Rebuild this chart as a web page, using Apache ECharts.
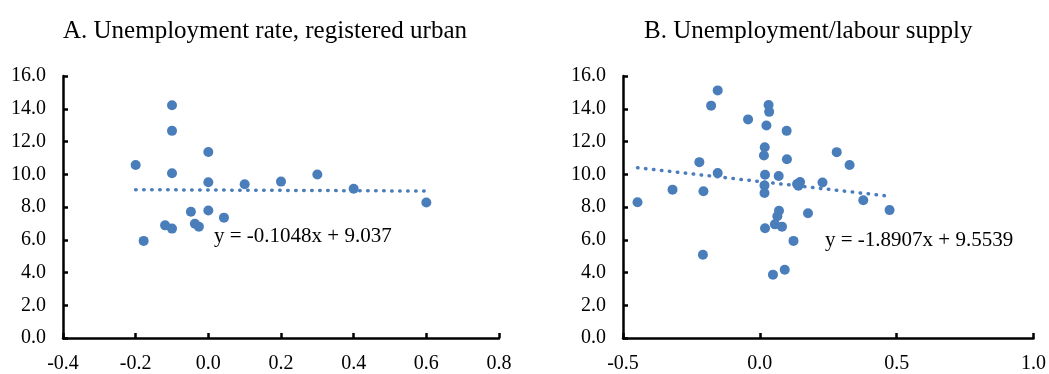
<!DOCTYPE html>
<html>
<head>
<meta charset="utf-8">
<script src="https://cdn.jsdelivr.net/npm/echarts@6/dist/echarts.min.js"></script>
<style>
html,body{margin:0;padding:0;background:#fff;}
#c{width:1049px;height:374px;}
</style>
</head>
<body>
<div id="c"></div>
<script>
// Panel A: Unemployment rate, registered urban
const titleA = 'A. Unemployment rate, registered urban';
const pointsA = [
  [-0.2,10.57],[-0.178,5.93],[-0.1,14.21],[-0.1,12.65],[-0.1,10.06],[-0.1,6.68],
  [-0.119,6.88],[-0.048,7.71],[-0.037,6.98],[-0.026,6.80],[0,11.36],[0,9.51],
  [0,7.79],[0.043,7.35],[0.1,9.39],[0.2,9.55],[0.3,9.98],[0.4,9.11],[0.6,8.28]
];
const trendA = { slope: -0.1048, intercept: 9.037, label: 'y = -0.1048x + 9.037' };

// Panel B: Unemployment/labour supply
const titleB = 'B. Unemployment/labour supply';
const pointsB = [
  [-0.447,8.29],[-0.319,9.06],[-0.221,10.74],[-0.206,8.96],[-0.208,5.08],[-0.178,14.19],
  [-0.154,15.12],[-0.154,10.07],[-0.043,13.35],[0.032,14.23],[0.034,13.81],[0.024,12.98],
  [0.098,12.65],[0.018,11.65],[0.015,11.14],[0.099,10.92],[0.019,9.97],[0.069,9.89],
  [0.017,9.32],[0.017,8.86],[0.147,9.53],[0.141,9.30],[0.136,9.41],[0.229,9.50],
  [0.281,11.35],[0.328,10.56],[0.378,8.41],[0.474,7.81],[0.176,7.62],[0.070,7.77],
  [0.064,7.44],[0.055,6.94],[0.081,6.80],[0.019,6.70],[0.123,5.93],[0.091,4.17],[0.048,3.87]
];
const trendB = { slope: -1.8907, intercept: 9.5539, label: 'y = -1.8907x + 9.5539' };

// Axis tick settings
const xAxisA = { min: -0.4, max: 0.8, interval: 0.2 };
const xAxisB = { min: -0.5, max: 1.0, interval: 0.5 };
const yAxisAll = { min: 0, max: 16, interval: 2 };

const FONT = '"Liberation Serif", "Times New Roman", serif';
const BLUE = '#4A7EBB';

function trendLine(pts, t) {
  const xs = pts.map(p => p[0]);
  const x0 = Math.min(...xs), x1 = Math.max(...xs);
  return [[x0, t.slope * x0 + t.intercept], [x1, t.slope * x1 + t.intercept]];
}

function axisCommon(extra, margin) {
  return Object.assign({
    type: 'value',
    splitLine: { show: false },
    axisLine: { show: true, onZero: false, lineStyle: { color: '#000', width: 2.5 } },
    axisTick: { show: true, inside: true, length: 5, lineStyle: { color: '#000', width: 2.5 } },
    axisLabel: { color: '#000', fontFamily: FONT, fontSize: 20, margin: margin, formatter: v => v.toFixed(1) }
  }, extra);
}

const titleStyle = { fontFamily: FONT, fontSize: 25, fontWeight: 'normal', color: '#000' };
const eqStyle = { fontFamily: FONT, fontSize: 21, fontWeight: 'normal', color: '#000' };

const chart = echarts.init(document.getElementById('c'), null, { renderer: 'canvas' });
chart.setOption({
  backgroundColor: '#fff',
  animation: false,
  title: [
    { text: titleA, left: 63, top: 19, padding: 0, textStyle: titleStyle },
    { text: titleB, left: 644, top: 19, padding: 0, textStyle: titleStyle },
    { text: trendA.label, left: 214, top: 226, padding: 0, textStyle: eqStyle },
    { text: trendB.label, left: 825, top: 230, padding: 0, textStyle: eqStyle }
  ],
  grid: [
    { left: 63, top: 76, width: 436, height: 264 },
    { left: 623, top: 76, width: 412, height: 264 }
  ],
  xAxis: [
    axisCommon({ gridIndex: 0, min: xAxisA.min, max: xAxisA.max, interval: xAxisA.interval }, 16),
    axisCommon({ gridIndex: 1, min: xAxisB.min, max: xAxisB.max, interval: xAxisB.interval }, 16)
  ],
  yAxis: [
    axisCommon({ gridIndex: 0, min: yAxisAll.min, max: yAxisAll.max, interval: yAxisAll.interval }, 17),
    axisCommon({ gridIndex: 1, min: yAxisAll.min, max: yAxisAll.max, interval: yAxisAll.interval }, 17)
  ],
  series: [
    { type: 'line', xAxisIndex: 0, yAxisIndex: 0, data: trendLine(pointsA, trendA), symbol: 'none',
      lineStyle: { color: BLUE, width: 3.5, type: [0.5, 7.5], cap: 'round' }, z: 1 },
    { type: 'scatter', xAxisIndex: 0, yAxisIndex: 0, data: pointsA, symbolSize: 10,
      itemStyle: { color: BLUE, opacity: 1 }, z: 2 },
    { type: 'line', xAxisIndex: 1, yAxisIndex: 1, data: trendLine(pointsB, trendB), symbol: 'none',
      lineStyle: { color: BLUE, width: 3.5, type: [0.5, 7.5], cap: 'round' }, z: 1 },
    { type: 'scatter', xAxisIndex: 1, yAxisIndex: 1, data: pointsB, symbolSize: 10,
      itemStyle: { color: BLUE, opacity: 1 }, z: 2 }
  ]
});
</script>
</body>
</html>
